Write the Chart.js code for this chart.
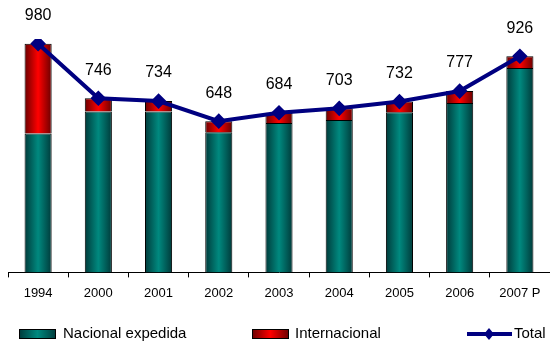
<html>
<head>
<meta charset="UTF-8">
<title>Carga</title>
<script src="https://cdn.jsdelivr.net/npm/chart.js@4.4.1/dist/chart.umd.min.js"></script>
<style>
  body { margin:0; background:#fff; }
  #wrap { position:relative; width:550px; height:345px; }
</style>
</head>
<body>
<div id="wrap"><canvas id="chart" width="550" height="345"></canvas></div>
<script>
var years = ['1994', '2000', '2001', '2002', '2003', '2004', '2005', '2006', '2007 P'];
var nacional = [595, 689, 689, 600, 640, 653, 686, 726, 876];
var internacional = [385, 57, 45, 48, 44, 50, 46, 51, 50];
var total = [980, 746, 734, 648, 684, 703, 732, 777, 926];

var FONT = '"Liberation Sans", Arial, sans-serif';

// horizontal shading like the old office charts
function barShade(dark, light) {
  return function(c) {
    var chart = c.chart;
    var sx = chart.scales && chart.scales.x;
    if (!sx || !chart.chartArea || c.dataIndex === undefined) return light;
    var cx = sx.getPixelForValue(c.dataIndex);
    var w = (chart.chartArea.width / years.length) * 0.45;
    var g = chart.ctx.createLinearGradient(cx - w / 2, 0, cx + w / 2, 0);
    g.addColorStop(0, dark);
    g.addColorStop(0.5, light);
    g.addColorStop(1, dark);
    return g;
  };
}

var valueLabels = {
  id: 'valueLabels',
  afterDatasetsDraw: function(chart) {
    var ctx = chart.ctx;
    var meta = chart.getDatasetMeta(2);
    ctx.save();
    ctx.font = '16px ' + FONT;
    ctx.fillStyle = '#000';
    ctx.textAlign = 'center';
    ctx.textBaseline = 'middle';
    meta.data.forEach(function(p, i) {
      ctx.fillText(String(total[i]), p.x, p.y - 28);
    });
    ctx.restore();
  }
};

var bottomLegend = {
  id: 'bottomLegend',
  afterDraw: function(chart) {
    var ctx = chart.ctx;
    var y = 334;
    ctx.save();
    ctx.font = '15px ' + FONT;
    ctx.textBaseline = 'middle';
    function swatch(x, dark, light) {
      var g = ctx.createLinearGradient(x, 0, x + 37, 0);
      g.addColorStop(0, dark); g.addColorStop(0.5, light); g.addColorStop(1, dark);
      ctx.fillStyle = g;
      ctx.fillRect(x, y - 5, 37, 10);
      ctx.strokeStyle = '#000';
      ctx.lineWidth = 1;
      ctx.strokeRect(x + 0.5, y - 4.5, 36, 9);
    }
    swatch(19, '#003a3a', '#00897f');
    ctx.fillStyle = '#000';
    ctx.fillText('Nacional expedida', 63, y);
    swatch(252, '#6a0000', '#ff0000');
    ctx.fillStyle = '#000';
    ctx.fillText('Internacional', 295, y);
    ctx.strokeStyle = '#000080';
    ctx.lineWidth = 4;
    ctx.beginPath(); ctx.moveTo(467, y); ctx.lineTo(512, y); ctx.stroke();
    ctx.fillStyle = '#000080';
    ctx.beginPath();
    ctx.moveTo(489, y - 6); ctx.lineTo(494, y); ctx.lineTo(489, y + 6); ctx.lineTo(484, y);
    ctx.closePath(); ctx.fill();
    ctx.fillStyle = '#000';
    ctx.fillText('Total', 514, y);
    ctx.restore();
  }
};

new Chart(document.getElementById('chart'), {
  data: {
    labels: years,
    datasets: [
      {
        type: 'bar', label: 'Nacional expedida', data: nacional, stack: 'carga', order: 2,
        backgroundColor: barShade('#003a3a', '#00897f'),
        borderColor: '#000', borderWidth: 1,
        categoryPercentage: 1, barPercentage: 0.45
      },
      {
        type: 'bar', label: 'Internacional', data: internacional, stack: 'carga', order: 2,
        backgroundColor: barShade('#6a0000', '#ff0000'),
        borderColor: '#000', borderWidth: 1,
        categoryPercentage: 1, barPercentage: 0.45
      },
      {
        type: 'line', label: 'Total', data: total, stack: 'total', order: 0,
        borderColor: '#000080', borderWidth: 4, tension: 0,
        pointStyle: 'rectRot', pointRadius: 5,
        pointBackgroundColor: '#000080', pointBorderColor: '#000080'
      }
    ]
  },
  options: {
    responsive: false,
    animation: false,
    layout: { autoPadding: false, padding: { top: 39, left: 8, right: -3, bottom: 36 } },
    plugins: { legend: { display: false }, tooltip: { enabled: false } },
    scales: {
      x: {
        stacked: true,
        grid: { display: true, drawOnChartArea: false, tickLength: 5, color: '#000', offset: true },
        border: { color: '#000', width: 1 },
        ticks: { color: '#000', font: { family: FONT, size: 13 }, padding: 8, maxRotation: 0 }
      },
      y: {
        stacked: true, display: false, min: 0, max: 1000
      }
    }
  },
  plugins: [valueLabels, bottomLegend]
});
</script>
</body>
</html>
